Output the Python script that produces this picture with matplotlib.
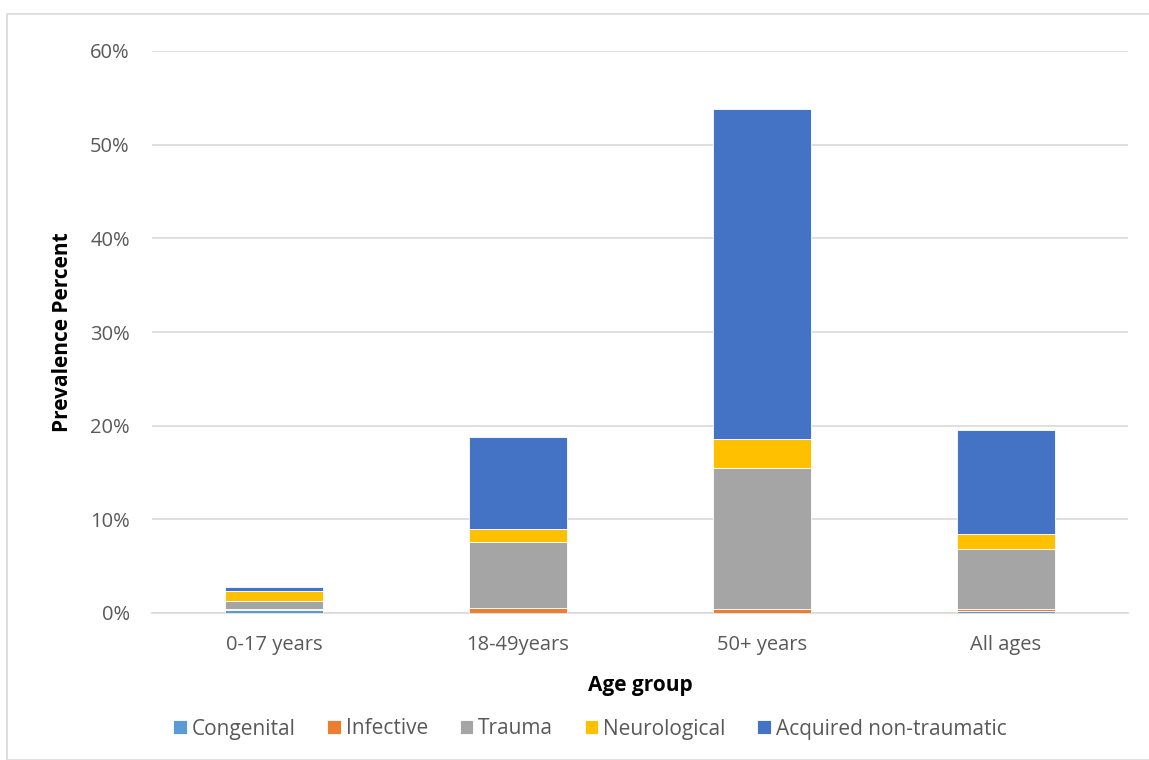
import matplotlib
matplotlib.use("Agg")
import matplotlib.pyplot as plt
from matplotlib.patches import Rectangle
import numpy as np

categories = ["0-17 years", "18-49years", "50+ years", "All ages"]
series_names = ["Congenital", "Infective", "Trauma", "Neurological", "Acquired non-traumatic"]
congenital = [0.3, 0.05, 0.05, 0.2]
infective = [0.1, 0.45, 0.35, 0.26]
trauma = [0.9, 7.1, 15.1, 6.4]
neurological = [1.0, 1.4, 3.03, 1.57]
acquired = [0.5, 9.75, 35.3, 11.07]
colors = ["#5B9BD5", "#ED7D31", "#A5A5A5", "#FFC000", "#4472C4"]
yticks = [0, 10, 20, 30, 40, 50, 60]

plt.rcParams['font.family'] = ['Open Sans', 'DejaVu Sans']
fig = plt.figure(figsize=(11.49, 7.6), dpi=100)
fig.patches.append(Rectangle((7/1149, 0), 1.2, 1 - 14/760, transform=fig.transFigure,
                             fill=False, edgecolor="#D9D9D9", linewidth=1.2))
ax = fig.add_axes([152/1149, 1 - 613/760, (1128 - 152)/1149, (613 - 51)/760])

x = np.arange(len(categories))
bottom = np.zeros(len(categories))
for name, vals, c in zip(series_names, [congenital, infective, trauma, neurological, acquired], colors):
    ax.bar(x, vals, 0.4, bottom=bottom, color=c, label=name, edgecolor="white", linewidth=0.6, zorder=3)
    bottom += np.array(vals)

ax.set_xlim(-0.5, 3.5)
ax.set_ylim(0, 60)
ax.set_yticks(yticks)
ax.set_yticklabels([f"{t}%" for t in yticks])
ax.set_xticks(x)
ax.set_xticklabels(categories)
ax.yaxis.grid(True, color="#D9D9D9", linewidth=1.2, zorder=0)
for s in ["top", "right", "left"]:
    ax.spines[s].set_visible(False)
ax.spines["bottom"].set_color("#D9D9D9")
ax.spines["bottom"].set_linewidth(1.2)
ax.tick_params(axis="both", length=0, labelsize=14.5, labelcolor="#595959")
ax.tick_params(axis="x", pad=16)
ax.tick_params(axis="y", pad=16)
ax.set_xlabel("Age group", fontsize=15, fontweight="bold", labelpad=14)
ax.set_ylabel("Prevalence Percent", fontsize=15, fontweight="bold", labelpad=12)

handles, labels = ax.get_legend_handles_labels()
fig.legend(handles, labels, loc="center", bbox_to_anchor=(590/1149, 1 - 729/760), ncol=5,
           frameon=False, fontsize=15, handlelength=0.65, handleheight=0.65, handletextpad=0.25,
           columnspacing=1.5, labelcolor="#595959")

fig.savefig("out.png", dpi=100)
